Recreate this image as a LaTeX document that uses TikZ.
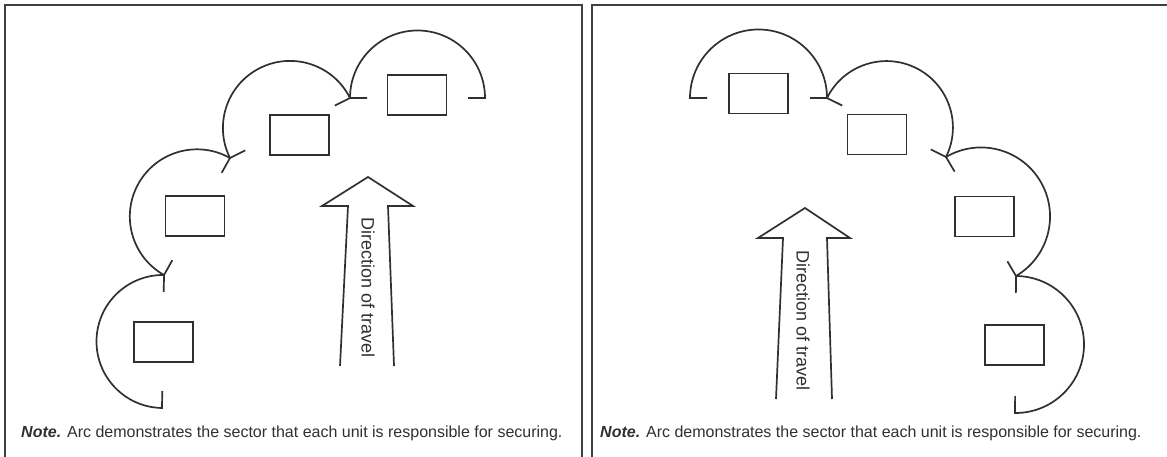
\documentclass[tikz,border=0pt]{standalone}
\usepackage{fontspec}
\setmainfont{Liberation Sans}
\usepackage{tikz}
\usetikzlibrary{calc}
\definecolor{lineColor}{HTML}{303030}
\definecolor{frameColor}{HTML}{404040}

% semicircular sector from one junction to the next, with a short radial tick at each end
\newcommand{\sectorArc}[2]{%
  \draw[sectorLine] let \p1=(#1), \p2=(#2),
      \n1={atan2(\y1-\y2,\x1-\x2)}, \n2={veclen(\x2-\x1,\y2-\y1)/2} in
    ($(#1)!17pt!(#2)$) -- (#1) arc[start angle=\n1, delta angle=-180, radius=\n2]
    -- ($(#2)!17pt!(#1)$);}

\begin{document}
\begin{tikzpicture}[x=1pt, y=1pt,
    unitBox/.style={draw=lineColor, line width=1.8pt, minimum width=59pt, minimum height=40pt, inner sep=0pt},
    sectorLine/.style={draw=lineColor, line width=1.7pt},
    travelArrow/.style={draw=lineColor, line width=1.7pt, line join=miter},
    panelFrame/.style={draw=frameColor, line width=2.6pt},
    travelText/.style={rotate=-90, font=\fontsize{18}{20}\selectfont, inner sep=0pt, text=lineColor},
    noteText/.style={anchor=base west, font=\fontsize{16}{19}\selectfont, inner sep=0pt, text=lineColor}]
    \useasboundingbox (0,0) rectangle (1167,457);

    % panel frames
    \draw[panelFrame] (5,-5) -- (5,452) -- (582,452) -- (582,-5);
    \draw[panelFrame] (592,-5) -- (592,452) -- (1175,452);

    % left panel
    \node[unitBox] (lunitA) at (163.5,115) {};
    \node[unitBox] (lunitB) at (195,241) {};
    \node[unitBox] (lunitC) at (299.5,322) {};
    \node[unitBox] (lunitD) at (417,362) {};

    \coordinate (ljA) at (162,49);
    \coordinate (ljB) at (164,182);
    \coordinate (ljC) at (230,299);
    \coordinate (ljD) at (350,359);
    \coordinate (ljE) at (485,359);
    \sectorArc{ljA}{ljB}
    \sectorArc{ljB}{ljC}
    \sectorArc{ljC}{ljD}
    \sectorArc{ljD}{ljE}

    \draw[travelArrow] (340,91) -- (348,251) -- (322,251) -- (368,280) -- (413,251) -- (388,251) -- (394,91);
    \node[travelText] (ltravel) at (368,169) {Direction of travel};
    \node[noteText] (lnote) at (21,19) {\textbf{\textit{Note.}} Arc demonstrates the sector that each unit is responsible for securing.};

    % right panel
    \node[unitBox] (runitA) at (758.5,363.5) {};
    \node[unitBox] (runitB) at (877,322.5) {};
    \node[unitBox] (runitC) at (984.5,240.5) {};
    \node[unitBox] (runitD) at (1014.5,112) {};

    \coordinate (rjA) at (690,359);
    \coordinate (rjB) at (827,359);
    \coordinate (rjC) at (946,300);
    \coordinate (rjD) at (1016,181);
    \coordinate (rjE) at (1015,44);
    \sectorArc{rjA}{rjB}
    \sectorArc{rjB}{rjC}
    \sectorArc{rjC}{rjD}
    \sectorArc{rjD}{rjE}

    \draw[travelArrow] (776,58) -- (783,219) -- (758,219) -- (805,249) -- (850,219) -- (827,219) -- (832,58);
    \node[travelText] (rtravel) at (803,136) {Direction of travel};
    \node[noteText] (rnote) at (600,19) {\textbf{\textit{Note.}} Arc demonstrates the sector that each unit is responsible for securing.};
\end{tikzpicture}
\end{document}
